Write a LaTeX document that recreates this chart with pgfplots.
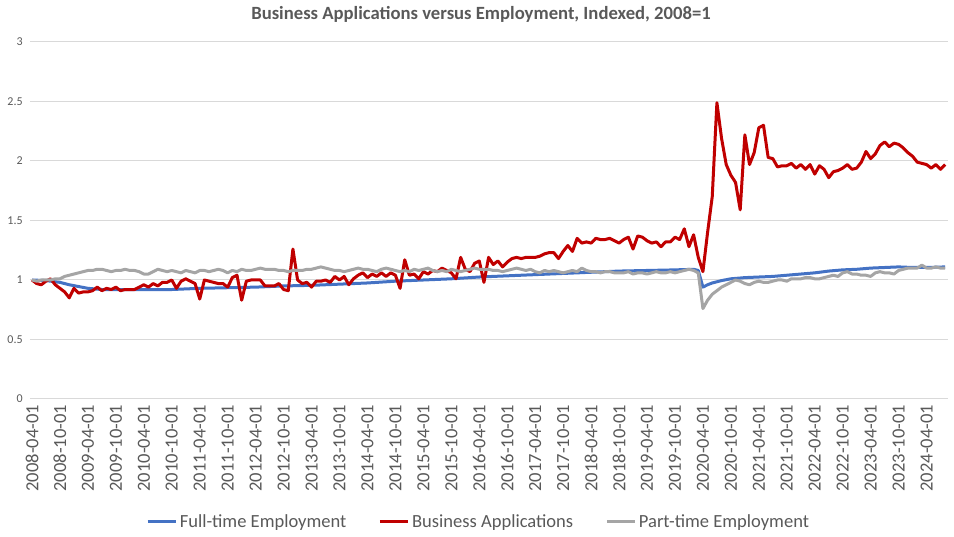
\documentclass[border=0pt]{standalone}
\usepackage{pgfplots}
\pgfplotsset{compat=1.18}
\usepackage{fontspec}
\setmainfont{Carlito}
\definecolor{cblue}{HTML}{4472C4}
\definecolor{cred}{HTML}{C00000}
\definecolor{cgray}{HTML}{A5A5A5}
\definecolor{gridc}{HTML}{D9D9D9}
\definecolor{txt}{HTML}{595959}
\begin{document}
\begin{tikzpicture}
\begin{axis}[
  name=ax,
  scale only axis,
  width=688.5pt, height=267.75pt,
  xmin=-0.43, xmax=196.6,
  ymin=0, ymax=3,
  ytick={0,0.5,...,3},
  yticklabel style={/pgf/number format/assume math mode=true, font=\fontsize{9pt}{10pt}\selectfont, text=txt, xshift=-2pt},
  ymajorgrids, grid style={gridc, line width=0.75pt},
  axis line style={draw=none},
  axis x line*=bottom,
  x axis line style={draw=gridc, line width=0.75pt},
  major tick length=0pt,
  xtick={0,6,...,192},
  xticklabels={2008-04-01,2008-10-01,2009-04-01,2009-10-01,2010-04-01,2010-10-01,2011-04-01,2011-10-01,2012-04-01,2012-10-01,2013-04-01,2013-10-01,2014-04-01,2014-10-01,2015-04-01,2015-10-01,2016-04-01,2016-10-01,2017-04-01,2017-10-01,2018-04-01,2018-10-01,2019-04-01,2019-10-01,2020-04-01,2020-10-01,2021-04-01,2021-10-01,2022-04-01,2022-10-01,2023-04-01,2023-10-01,2024-04-01},
  xticklabel style={rotate=90, anchor=east, font=\fontsize{13.9pt}{15pt}\selectfont, text=txt, yshift=0pt, xshift=-1pt},
  legend columns=3,
  legend style={at={(0.489,-0.3445)}, anchor=center, draw=none, fill=none, font=\fontsize{13.9pt}{15pt}\selectfont, text=txt, /tikz/every even column/.append style={column sep=22pt}, inner sep=0pt},
  legend image code/.code={\draw[#1] (0pt,0pt) -- (21pt,0pt);},
  title={\textbf{Business Applications versus Employment, Indexed, 2008=1}},
  title style={font=\fontsize{14pt}{15pt}\selectfont, text=txt, at={(0.4913,1)}, anchor=center, yshift=15pt, inner sep=0pt},
  every axis plot/.append style={line width=2.25pt, line join=round, no markers},
]
\addplot[cblue] coordinates {(0,1.00)(3,0.995)(6,0.98)(8,0.96)(10,0.945)(12,0.93)(15,0.92)(18,0.92)(24,0.92)(30,0.92)(36,0.93)(42,0.935)(48,0.94)(54,0.95)(60,0.955)(66,0.965)(72,0.975)(78,0.99)(84,1.00)(90,1.01)(96,1.025)(102,1.035)(108,1.045)(114,1.055)(120,1.065)(126,1.075)(132,1.08)(138,1.085)(142,1.09)(143,1.08)(144,0.94)(145,0.96)(146,0.975)(147,0.985)(148,0.995)(150,1.01)(153,1.02)(156,1.025)(159,1.03)(162,1.04)(165,1.05)(168,1.06)(171,1.075)(174,1.085)(177,1.09)(180,1.10)(183,1.105)(186,1.11)(189,1.105)(192,1.105)(196,1.11)};
\addlegendentry{Full-time Employment}
\addplot[cred] coordinates {(0,1.00)(1,0.97)(2,0.96)(3,0.99)(4,1.01)(5,0.96)(6,0.93)(7,0.90)(8,0.85)(9,0.93)(10,0.89)(11,0.90)(12,0.90)(13,0.91)(14,0.94)(15,0.91)(16,0.93)(17,0.92)(18,0.94)(19,0.91)(20,0.92)(21,0.92)(22,0.92)(23,0.94)(24,0.96)(25,0.94)(26,0.97)(27,0.95)(28,0.98)(29,0.98)(30,1.00)(31,0.93)(32,0.99)(33,1.01)(34,0.99)(35,0.97)(36,0.84)(37,1.00)(38,0.99)(39,0.98)(40,0.97)(41,0.97)(42,0.94)(43,1.02)(44,1.04)(45,0.83)(46,0.99)(47,1.00)(48,1.00)(49,1.00)(50,0.95)(51,0.95)(52,0.95)(53,0.97)(54,0.92)(55,0.91)(56,1.26)(57,1.00)(58,0.97)(59,0.98)(60,0.94)(61,0.99)(62,0.99)(63,1.00)(64,0.98)(65,1.03)(66,1.00)(67,1.03)(68,0.96)(69,1.01)(70,1.04)(71,1.06)(72,1.02)(73,1.05)(74,1.03)(75,1.06)(76,1.03)(77,1.06)(78,1.04)(79,0.93)(80,1.17)(81,1.04)(82,1.05)(83,1.01)(84,1.07)(85,1.05)(86,1.08)(87,1.07)(88,1.10)(89,1.08)(90,1.06)(91,1.01)(92,1.19)(93,1.09)(94,1.07)(95,1.14)(96,1.16)(97,0.98)(98,1.19)(99,1.13)(100,1.16)(101,1.11)(102,1.15)(103,1.18)(104,1.19)(105,1.18)(106,1.19)(107,1.19)(108,1.19)(109,1.20)(110,1.22)(111,1.23)(112,1.23)(113,1.18)(114,1.24)(115,1.29)(116,1.24)(117,1.35)(118,1.31)(119,1.32)(120,1.31)(121,1.35)(122,1.34)(123,1.34)(124,1.35)(125,1.33)(126,1.31)(127,1.34)(128,1.36)(129,1.26)(130,1.37)(131,1.36)(132,1.33)(133,1.31)(134,1.32)(135,1.28)(136,1.32)(137,1.32)(138,1.36)(139,1.34)(140,1.43)(141,1.28)(142,1.38)(143,1.19)(144,1.07)(145,1.40)(146,1.70)(147,2.49)(148,2.19)(149,1.97)(150,1.88)(151,1.82)(152,1.59)(153,2.22)(154,1.97)(155,2.07)(156,2.28)(157,2.30)(158,2.03)(159,2.02)(160,1.95)(161,1.96)(162,1.96)(163,1.98)(164,1.94)(165,1.97)(166,1.93)(167,1.97)(168,1.89)(169,1.96)(170,1.93)(171,1.86)(172,1.91)(173,1.92)(174,1.94)(175,1.97)(176,1.93)(177,1.94)(178,1.99)(179,2.08)(180,2.02)(181,2.06)(182,2.13)(183,2.16)(184,2.12)(185,2.15)(186,2.14)(187,2.11)(188,2.07)(189,2.04)(190,1.99)(191,1.98)(192,1.97)(193,1.94)(194,1.97)(195,1.93)(196,1.97)};
\addlegendentry{Business Applications}
\addplot[cgray] coordinates {(0,1.00)(1,0.99)(2,1.00)(3,1.00)(4,1.00)(5,1.01)(6,1.01)(7,1.03)(8,1.04)(9,1.05)(10,1.06)(11,1.07)(12,1.08)(13,1.08)(14,1.09)(15,1.09)(16,1.08)(17,1.07)(18,1.08)(19,1.08)(20,1.09)(21,1.08)(22,1.08)(23,1.07)(24,1.05)(25,1.05)(26,1.07)(27,1.09)(28,1.08)(29,1.07)(30,1.08)(31,1.07)(32,1.06)(33,1.08)(34,1.07)(35,1.06)(36,1.08)(37,1.08)(38,1.07)(39,1.08)(40,1.09)(41,1.08)(42,1.06)(43,1.08)(44,1.07)(45,1.09)(46,1.08)(47,1.08)(48,1.09)(49,1.10)(50,1.09)(51,1.09)(52,1.09)(53,1.08)(54,1.08)(55,1.07)(56,1.08)(57,1.08)(58,1.08)(59,1.09)(60,1.09)(61,1.10)(62,1.11)(63,1.10)(64,1.09)(65,1.08)(66,1.08)(67,1.07)(68,1.08)(69,1.09)(70,1.10)(71,1.09)(72,1.09)(73,1.08)(74,1.07)(75,1.09)(76,1.10)(77,1.09)(78,1.08)(79,1.07)(80,1.08)(81,1.07)(82,1.09)(83,1.08)(84,1.09)(85,1.10)(86,1.08)(87,1.07)(88,1.08)(89,1.07)(90,1.09)(91,1.08)(92,1.07)(93,1.08)(94,1.09)(95,1.10)(96,1.09)(97,1.09)(98,1.09)(99,1.08)(100,1.08)(101,1.07)(102,1.08)(103,1.09)(104,1.10)(105,1.09)(106,1.08)(107,1.09)(108,1.07)(109,1.06)(110,1.08)(111,1.07)(112,1.08)(113,1.07)(114,1.06)(115,1.07)(116,1.08)(117,1.07)(118,1.10)(119,1.08)(120,1.07)(121,1.07)(122,1.06)(123,1.07)(124,1.07)(125,1.06)(126,1.06)(127,1.06)(128,1.07)(129,1.05)(130,1.06)(131,1.06)(132,1.05)(133,1.06)(134,1.07)(135,1.06)(136,1.06)(137,1.07)(138,1.06)(139,1.07)(140,1.08)(141,1.09)(142,1.08)(143,1.06)(144,0.76)(145,0.83)(146,0.88)(147,0.91)(148,0.94)(149,0.96)(150,0.98)(151,1.00)(152,0.99)(153,0.97)(154,0.96)(155,0.98)(156,0.99)(157,0.98)(158,0.98)(159,0.99)(160,1.00)(161,1.00)(162,0.99)(163,1.01)(164,1.01)(165,1.01)(166,1.02)(167,1.02)(168,1.01)(169,1.01)(170,1.02)(171,1.03)(172,1.04)(173,1.03)(174,1.06)(175,1.07)(176,1.05)(177,1.05)(178,1.04)(179,1.04)(180,1.03)(181,1.06)(182,1.07)(183,1.06)(184,1.06)(185,1.05)(186,1.08)(187,1.09)(188,1.10)(189,1.10)(190,1.10)(191,1.125)(192,1.10)(193,1.10)(194,1.11)(195,1.10)(196,1.10)};
\addlegendentry{Part-time Employment}
\end{axis}
\path ([shift={(-22.5pt,-103.5pt)}]ax.south west) rectangle ([shift={(4.5pt,31.5pt)}]ax.north east);
\end{tikzpicture}
\end{document}
